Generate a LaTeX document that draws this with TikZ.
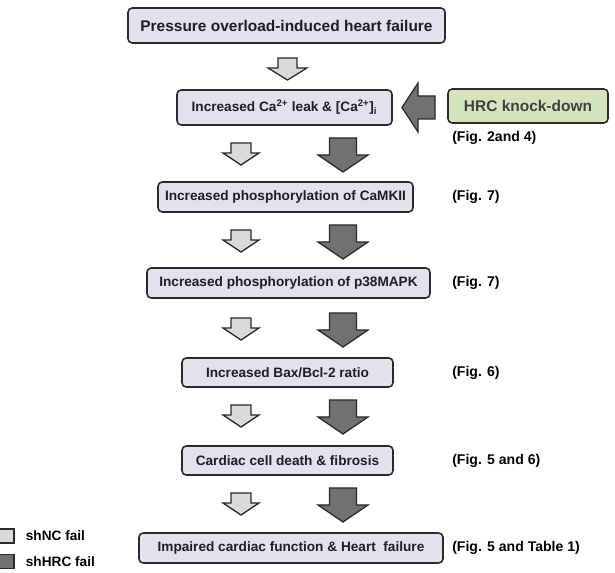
\documentclass[tikz,border=0pt]{standalone}
\usepackage{fontspec}
\setmainfont{Liberation Sans}
\usetikzlibrary{positioning}
\newlength\pxu
\setlength\pxu{0.25mm}
\definecolor{boxfill}{HTML}{E4E0EC}
\definecolor{hrcfill}{HTML}{D6E4BD}
\definecolor{lightarr}{HTML}{DADADA}
\definecolor{darkarr}{HTML}{717171}
\definecolor{edge}{HTML}{2A2A2A}
\tikzset{
  stepbox/.style={draw=edge, line width=1.1pt, fill=boxfill, rounded corners=3pt,
    inner sep=0pt, text=black!88, font=\bfseries\fontsize{9.7}{11}\selectfont},
  titlebox/.style={stepbox, font=\bfseries\fontsize{11}{13}\selectfont},
  hrcbox/.style={stepbox, fill=hrcfill, text=black!75, font=\bfseries\fontsize{11}{13}\selectfont},
  figlabel/.style={anchor=west, inner sep=0pt, font=\bfseries\fontsize{10}{12}\selectfont},
  keysquare/.style={draw=edge, line width=0.9pt, minimum width=15\pxu, minimum height=14\pxu, inner sep=0pt},
  lightarrow/.style={draw=edge, line width=0.9pt, fill=lightarr},
  darkarrow/.style={draw=edge, line width=0.9pt, fill=darkarr}
}
\begin{document}
\begin{tikzpicture}[x=0.25mm, y=-0.25mm, line join=miter]
  \useasboundingbox (0,0) rectangle (615,573);
  \coordinate (figcol) at (452,0);
  % the chain of steps
  \node[titlebox, minimum width=317\pxu, minimum height=35\pxu] (load) at (286.5,25.5) {Pressure overload-induced heart failure};
  \node[stepbox, minimum width=215\pxu, minimum height=35\pxu] (leak) at (284.5,107.5) {Increased Ca\textsuperscript{2+} leak \& [Ca\textsuperscript{2+}]\textsubscript{i}};
  \node[stepbox, minimum width=255\pxu, minimum height=30\pxu] (camk) at (285.5,197) {Increased phosphorylation of CaMKII};
  \node[stepbox, minimum width=283\pxu, minimum height=30\pxu] (mapk) at (288.5,283) {Increased phosphorylation of p38MAPK};
  \node[stepbox, minimum width=211\pxu, minimum height=29\pxu] (bax) at (287.5,372.5) {Increased Bax/Bcl-2 ratio};
  \node[stepbox, minimum width=211\pxu, minimum height=29\pxu] (death) at (287.5,460.5) {Cardiac cell death \& fibrosis};
  \node[stepbox, minimum width=304\pxu, minimum height=30\pxu] (fail) at (291,548) {Impaired cardiac function \& Heart\ \ failure};
  % the knock-down, on the right
  \node[hrcbox, minimum width=160\pxu, minimum height=34\pxu] (hrc) at (528,106) {HRC knock-down};
  \node[figlabel] (figleak) at (452,138) {(Fig. 2and 4)};
  \node[figlabel] (figcamk) at (camk -| figcol) {(Fig. 7)};
  \node[figlabel] (figmapk) at (mapk -| figcol) {(Fig. 7)};
  \node[figlabel] (figbax) at (bax -| figcol) {(Fig. 6)};
  \node[figlabel] (figdeath) at (death -| figcol) {(Fig. 5 and 6)};
  \node[figlabel] (figfail) at (fail -| figcol) {(Fig. 5 and Table 1)};
  % block arrows
  \filldraw[lightarrow] (278,58) -- ++(19,0) -- ++(0,10) -- ++(10,0) -- ++(-19.5,12) -- ++(-19.5,-12) -- ++(10,0) -- cycle;
  \filldraw[darkarrow] (435,96) -- ++(0,23) -- ++(-17,0) -- ++(0,13) -- ++(-16,-24.5) -- ++(16,-24.5) -- ++(0,13) -- cycle;
  \foreach \yl/\yd in {143/138, 230/225, 318/313, 405/400, 493/488} {
    \filldraw[lightarrow] (231,\yl) -- ++(20,0) -- ++(0,10) -- ++(8,0) -- ++(-18,12) -- ++(-18,-12) -- ++(8,0) -- cycle;
    \filldraw[darkarrow] (329.5,\yd) -- ++(27,0) -- ++(0,17) -- ++(11.5,0) -- ++(-25,17) -- ++(-25,-17) -- ++(11.5,0) -- cycle;
  }
  % legend
  \node[keysquare, fill=lightarr] (keync) at (6.5,536) {};
  \node[keysquare, fill=darkarr] (keyhrc) at (6.5,561.5) {};
  \node[figlabel, font=\bfseries\fontsize{9.7}{11}\selectfont, right=11\pxu of keync] (legnc) {shNC fail};
  \node[figlabel, font=\bfseries\fontsize{9.7}{11}\selectfont, right=11\pxu of keyhrc] (leghrc) {shHRC fail};
\end{tikzpicture}
\end{document}
